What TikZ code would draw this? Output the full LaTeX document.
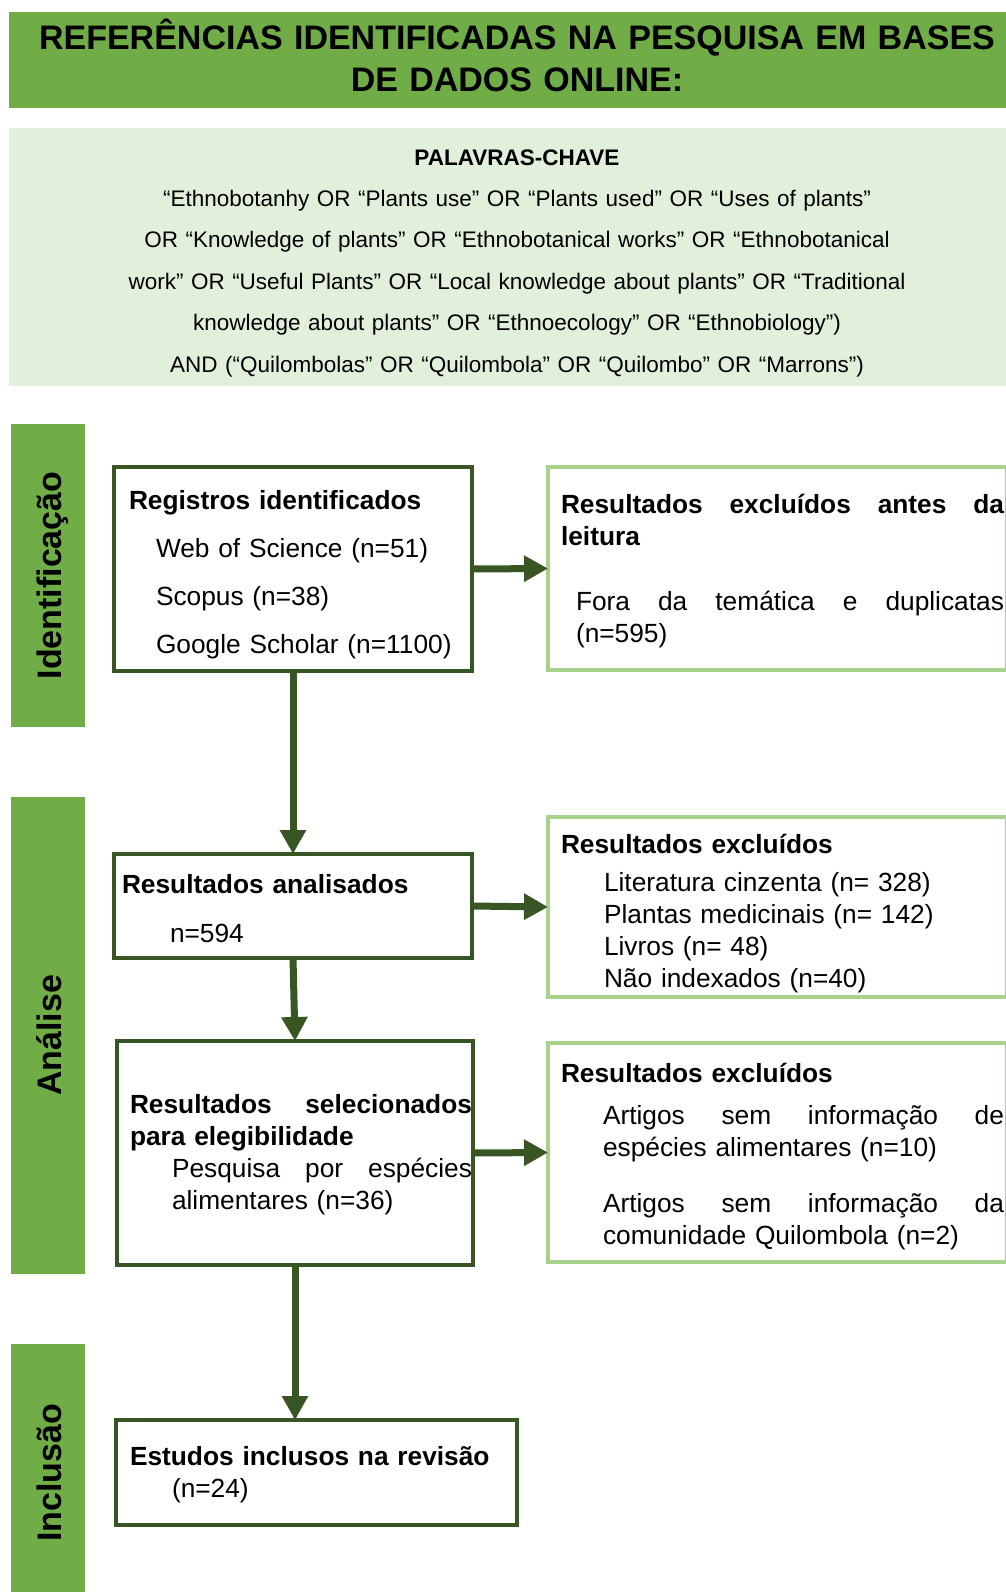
\documentclass[tikz,border=0pt]{standalone}
\usepackage{fontspec}
\setmainfont{Liberation Sans}
\usetikzlibrary{arrows.meta}
\definecolor{barGreen}{HTML}{70AD47}
\definecolor{paleGreen}{HTML}{E2EFDA}
\definecolor{darkGreen}{HTML}{375623}
\definecolor{lightGreen}{HTML}{A9D18E}
\begin{document}
\begin{tikzpicture}[x=1pt,y=1pt,
  stepbox/.style={draw=darkGreen,line width=4.5pt,anchor=north west,inner sep=0pt,outer sep=0pt,align=left,font=\fontsize{26.3}{32}\selectfont},
  outbox/.style={draw=lightGreen,line width=4pt,anchor=north west,inner sep=0pt,outer sep=0pt,align=left,font=\fontsize{26.3}{32}\selectfont},
  phase/.style={fill=barGreen,rotate=90,inner sep=0pt,text height=50pt,text depth=24pt,font=\fontsize{34}{40}\selectfont\bfseries},
  flow/.style={draw=darkGreen,line width=7pt,-{Triangle[length=24pt,width=25pt]}}]
\useasboundingbox (0,0) rectangle (1006,-1592);
\node[fill=barGreen,text width=1016pt,inner sep=0pt,text height=38pt,text depth=58pt,align=center,font=\fontsize{34}{42}\selectfont\bfseries] (t_1) at (517,-60) {REFERÊNCIAS IDENTIFICADAS NA PESQUISA EM BASES\\DE DADOS ONLINE:};
\node[fill=paleGreen,text width=1016pt,inner sep=0pt,text height=37pt,text depth=221pt,align=center,font=\fontsize{22.5}{41.4}\selectfont] (k_1) at (517,-257) {\textbf{PALAVRAS-CHAVE}\\
“Ethnobotanhy OR “Plants use” OR “Plants used” OR “Uses of plants”\\
OR “Knowledge of plants” OR “Ethnobotanical works” OR “Ethnobotanical\\
work” OR “Useful Plants” OR “Local knowledge about plants” OR “Traditional\\
knowledge about plants” OR “Ethnoecology” OR “Ethnobiology”)\\
AND (“Quilombolas” OR “Quilombola” OR “Quilombo” OR “Marrons”)};
\node[phase,minimum width=303pt] (p_1) at (48,-575.5) {Identificação};
\node[phase,minimum width=477pt] (p_2) at (48,-1035.5) {Análise};
\node[phase,minimum width=258pt] (p_3) at (48,-1473) {Inclusão};
\node[stepbox,text width=358pt,text height=42pt,text depth=162pt] (s_1) at (114,-467) {\hspace*{15pt}\textbf{Registros identificados}\\[16pt]
\hspace*{42pt}Web of Science (n=51)\\[16pt]
\hspace*{42pt}Scopus (n=38)\\[16pt]
\hspace*{42pt}Google Scholar (n=1100)};
\node[outbox,text width=459pt,text height=46pt,text depth=157pt] (x_1) at (548,-467) {\hspace*{13pt}\hbox to 443pt{\bfseries Resultados\hfill excluídos\hfill antes\hfill da}\\
\hspace*{13pt}\textbf{leitura}\\[33pt]
\hspace*{28pt}\hbox to 428pt{Fora\hfill da\hfill temática\hfill e\hfill duplicatas}\\
\hspace*{28pt}(n=595)};
\node[stepbox,text width=358pt,text height=39pt,text depth=65pt] (s_2) at (114,-854) {\hspace*{8pt}\textbf{Resultados analisados}\\[17pt]
\hspace*{56pt}n=594};
\node[outbox,text width=459pt,text height=36pt,text depth=144pt] (x_2) at (548,-817) {\hspace*{13pt}\textbf{Resultados excluídos}\\[6pt]
\hspace*{56pt}Literatura cinzenta (n= 328)\\
\hspace*{56pt}Plantas medicinais (n= 142)\\
\hspace*{56pt}Livros (n= 48)\\
\hspace*{56pt}Não indexados (n=40)};
\node[stepbox,text width=356pt,text height=72pt,text depth=152pt] (s_3) at (117,-1041) {\hspace*{13pt}\hbox to 342pt{\bfseries Resultados\hfill selecionados}\\
\hspace*{13pt}\textbf{para elegibilidade}\\
\hspace*{55pt}\hbox to 300pt{Pesquisa\hfill por\hfill espécies}\\
\hspace*{55pt}alimentares (n=36)};
\node[outbox,text width=459pt,text height=39pt,text depth=180pt] (x_3) at (548,-1043) {\hspace*{13pt}\textbf{Resultados excluídos}\\[10pt]
\hspace*{55pt}\hbox to 401pt{Artigos\hfill sem\hfill informação\hfill de}\\
\hspace*{55pt}espécies alimentares (n=10)\\[24pt]
\hspace*{55pt}\hbox to 401pt{Artigos\hfill sem\hfill informação\hfill da}\\
\hspace*{55pt}comunidade Quilombola (n=2)};
\node[stepbox,text width=401pt,text height=45pt,text depth=60pt] (s_4) at (116,-1420) {\hspace*{14pt}\textbf{Estudos inclusos na revisão}\\
\hspace*{56pt}(n=24)};
\draw[flow] (s_1.east) -- (x_1.west);
\draw[flow] (s_1.south) -- (s_2.north);
\draw[flow] (s_2.east) -- (x_2.west);
\draw[flow] (s_2.south) -- (s_3.north);
\draw[flow] (s_3.east) -- (x_3.west);
\draw[flow] (s_3.south) -- (s_3.south |- s_4.north);
\end{tikzpicture}
\end{document}
